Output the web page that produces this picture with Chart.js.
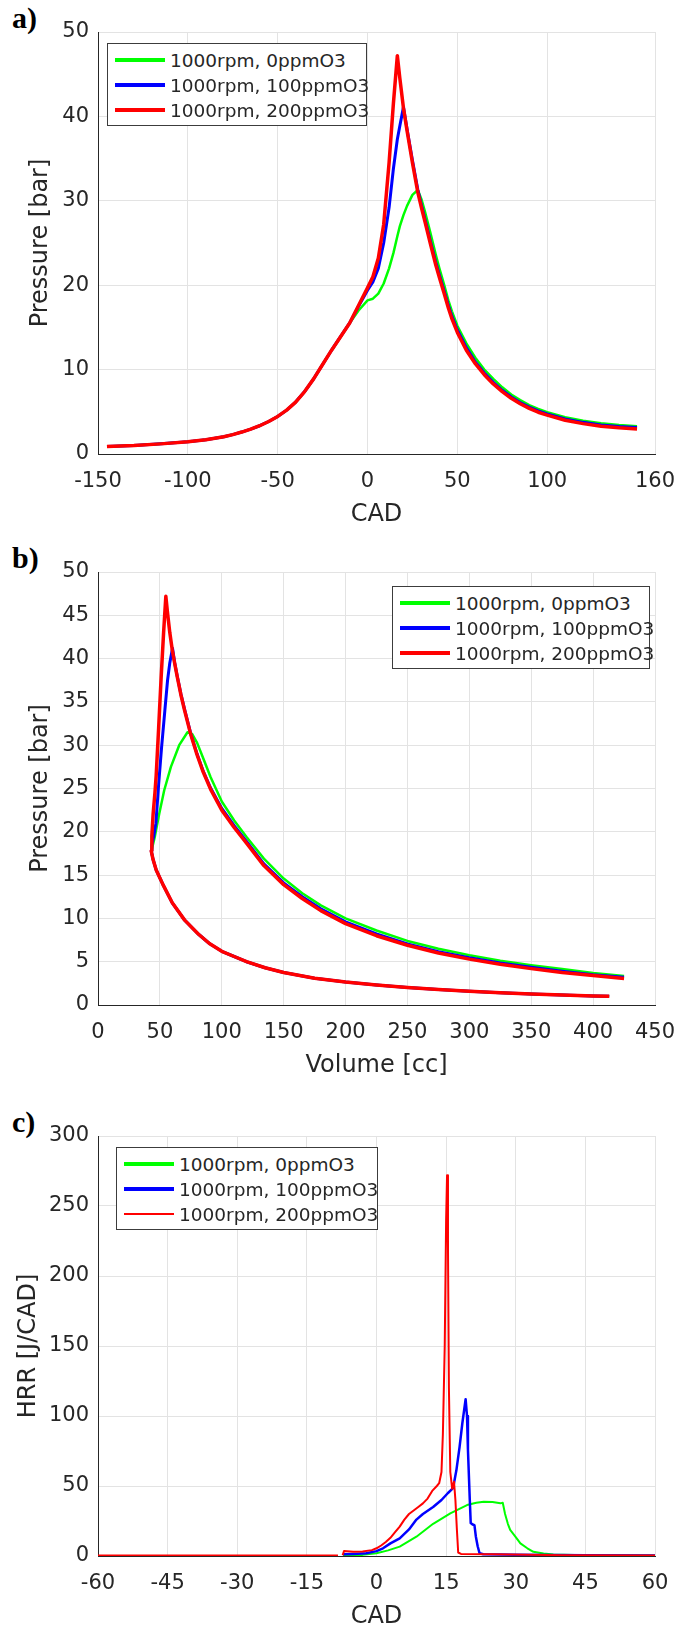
<!DOCTYPE html>
<html>
<head>
<meta charset="utf-8">
<script src="https://cdn.jsdelivr.net/npm/chart.js@4/dist/chart.umd.min.js"></script>
<style>
  html, body { margin: 0; padding: 0; background: #fff; }
  body { width: 689px; height: 1629px; position: relative; overflow: hidden; font-family: "DejaVu Sans", sans-serif; }
  canvas { position: absolute; left: 0; }
  .tag { position: absolute; left: 12px; font-family: "Liberation Serif", serif; font-weight: bold; font-size: 30px; line-height: 1; color: #000; }
  .legend { position: absolute; background: #fff; border: 1px solid #3c3c3c; box-sizing: border-box; height: 83px; }
  .legend .row { position: absolute; left: 0; right: 0; height: 25px; }
  .legend .swatch { position: absolute; left: 7px; width: 50px; top: 50%; }
  .legend .label { position: absolute; left: 62px; top: 0; line-height: 25px; font-size: 18.5px; color: #262626; white-space: nowrap; }
</style>
</head>
<body>
<div class="tag" style="top:3px">a)</div>
<div class="tag" style="top:543px">b)</div>
<div class="tag" style="top:1107px">c)</div>

<canvas id="chartA" width="689" height="529" style="top:0px"></canvas>
<canvas id="chartB" width="689" height="540" style="top:540px"></canvas>
<canvas id="chartC" width="689" height="527" style="top:1104px"></canvas>

<div class="legend" id="legendA" style="left:107px; top:43px; width:260px"></div>
<div class="legend" id="legendB" style="left:392px; top:586px; width:258px"></div>
<div class="legend" id="legendC" style="left:116px; top:1147px; width:262px"></div>

<script>
const seriesNames = ['1000rpm, 0ppmO3', '1000rpm, 100ppmO3', '1000rpm, 200ppmO3'];
const seriesColors = ['#00ff00', '#0000ff', '#ff0000'];

// a) pressure vs crank angle
const cadA = [-145, -130, -115, -100, -90, -80, -75, -70, -65, -60, -55, -50, -45, -40, -35, -30, -25, -20, -15, -10,
  -5, 0, 3, 6, 9, 12, 14.4, 16.6, 18, 20, 22, 25, 28, 30, 32, 35, 38, 40, 42.7, 45, 47, 50,
  55, 60, 65, 70, 75, 80, 85, 90, 95, 100, 110, 120, 130, 140, 150];
const pressA0 = [0.9, 1.0, 1.2, 1.45, 1.7, 2.05, 2.3, 2.6, 2.95, 3.35, 3.85, 4.45, 5.2, 6.15, 7.4, 8.9, 10.6, 12.3, 13.9, 15.5,
  17.0, 18.2, 18.4, 19.0, 20.2, 22.0, 23.8, 25.8, 27.0, 28.3, 29.4, 30.7, 31.3, 30.2, 28.7, 26.2, 23.6, 22.0, 20.0, 18.2, 16.9, 15.2,
  13.1, 11.4, 10.0, 8.9, 7.9, 7.05, 6.4, 5.8, 5.35, 4.95, 4.35, 3.95, 3.65, 3.45, 3.3];
const pressA100 = [0.9, 1.0, 1.2, 1.45, 1.7, 2.05, 2.3, 2.6, 2.95, 3.35, 3.85, 4.45, 5.2, 6.15, 7.4, 8.9, 10.6, 12.3, 13.9, 15.5,
  17.5, 19.4, 20.4, 22.0, 25.0, 29.2, 33.8, 37.3, 38.9, 41.1, 38.5, 34.8, 31.3, 29.5, 27.8, 25.2, 22.7, 21.2, 19.3, 17.6, 16.3, 14.7,
  12.6, 10.9, 9.6, 8.5, 7.55, 6.75, 6.1, 5.55, 5.1, 4.75, 4.15, 3.75, 3.45, 3.25, 3.15];
const pressA200 = [0.9, 1.0, 1.2, 1.45, 1.7, 2.05, 2.3, 2.6, 2.95, 3.35, 3.85, 4.45, 5.2, 6.15, 7.4, 8.9, 10.6, 12.3, 13.9, 15.5,
  17.6, 19.7, 21.0, 23.2, 27.2, 34.5, 41.5, 47.2, 44.5, 41.0, 38.3, 34.5, 31.0, 29.2, 27.5, 24.9, 22.4, 20.9, 19.0, 17.3, 16.0, 14.4,
  12.3, 10.7, 9.4, 8.3, 7.4, 6.6, 5.95, 5.4, 4.95, 4.6, 4.0, 3.6, 3.3, 3.1, 2.95];
const cadTicksA = [-150, -100, -50, 0, 50, 100, 160];
const pressTicksA = [0, 10, 20, 30, 40, 50];

// b) pressure vs volume (compression stroke is shared, then each run's combustion/expansion)
const volCompB = [413, 400, 375, 350, 325, 300, 275, 250, 225, 200, 175, 150, 135, 120, 110, 100, 90, 81, 70, 60, 52.5, 47, 44.5, 43];
const pressCompB = [1.0, 1.05, 1.15, 1.28, 1.42, 1.6, 1.8, 2.02, 2.3, 2.65, 3.1, 3.75, 4.3, 5.0, 5.6, 6.2, 7.1, 8.2, 9.8, 11.8, 13.9, 15.6, 16.8, 17.8];
const volExpB0 = [43.5, 46, 49.5, 53.5, 58.9, 65.6, 72.3, 76, 80, 85, 91, 100, 110, 120, 134, 150, 165, 180, 200,
  225, 250, 275, 300, 325, 350, 375, 400, 425];
const pressExpB0 = [18.0, 19.5, 22.1, 24.8, 27.5, 30.0, 31.5, 31.3, 30.3, 28.5, 26.3, 23.5, 21.3, 19.4, 16.9, 14.6, 12.9, 11.5, 10.0,
  8.6, 7.4, 6.5, 5.75, 5.1, 4.6, 4.15, 3.7, 3.35];
const volExpB100 = [43.5, 45, 46.8, 49, 51.4, 54, 56.2, 58, 60.2, 62, 64, 67, 70, 75, 80, 85, 91, 100, 110, 120, 134, 150,
  165, 180, 200, 225, 250, 275, 300, 325, 350, 375, 400, 425];
const pressExpB100 = [18.5, 19.5, 21.0, 25.5, 29.8, 34.0, 37.5, 39.5, 41.2, 39.5, 38.0, 35.9, 34.1, 31.3, 29.0, 27.0, 25.05, 22.7, 20.7, 18.9, 16.3, 14.1,
  12.5, 11.1, 9.6, 8.2, 7.05, 6.15, 5.45, 4.85, 4.35, 3.9, 3.5, 3.2];
const volExpB200 = [43.5, 44.5, 46, 47, 49, 51, 53, 54.8, 56, 58, 60, 62, 64, 67, 70, 75, 80, 85, 91, 100, 110, 120, 134, 150,
  165, 180, 200, 225, 250, 275, 300, 325, 350, 375, 400, 425];
const pressExpB200 = [19.5, 22.0, 24.5, 26.5, 32.0, 37.8, 43.0, 47.2, 45.5, 43.0, 41.0, 39.4, 37.9, 35.8, 34.0, 31.2, 28.9, 26.9, 24.9, 22.5, 20.5, 18.7, 16.1, 13.9,
  12.3, 10.9, 9.4, 8.0, 6.9, 6.0, 5.3, 4.7, 4.2, 3.75, 3.4, 3.05];
const volTicksB = [0, 50, 100, 150, 200, 250, 300, 350, 400, 450];
const pressTicksB = [0, 5, 10, 15, 20, 25, 30, 35, 40, 45, 50];

// c) heat release rate vs crank angle
const cadC0 = [-7.2, -3, 0, 2.5, 5, 8.6, 12.2, 15.9, 19.5, 21.5, 23.1, 25, 26.7, 27.2, 27.7, 28.3, 28.8,
  30, 31, 32.5, 33.8, 36, 38.1, 45, 60];
const hrrC0 = [0.3, 0.8, 2.0, 4.0, 6.7, 13.8, 23.0, 30.5, 36.4, 38.0, 38.8, 38.5, 37.6, 38.0, 30.0, 23.0, 18.6,
  13.5, 9.0, 5.5, 3.0, 1.8, 1.0, 0.6, 0.4];
const cadC100 = [-7.2, -5, -2.2, 0, 1.4, 3, 5, 7, 8.6, 10, 12.2, 14, 15.4, 16.5, 17.2, 17.9, 18.5, 19.2,
  19.5, 19.7, 20.1, 20.3, 20.7, 21.1, 21.4, 21.8, 22.2, 23, 30, 45, 60];
const hrrC100 = [1.2, 1.5, 2.0, 3.5, 5.5, 9.0, 12.6, 19.0, 26.0, 30.0, 35.0, 40.0, 45.0, 48.5, 61.0, 78.0, 95.0, 112.0,
  100.0, 76.0, 40.0, 23.5, 22.5, 22.0, 14.0, 7.0, 2.0, 1.2, 0.9, 0.5, 0.4];
const cadC200 = [-60, -8.3, -7.8, -7.3, -7, -5, -3, -1, 0, 1, 2, 3, 4, 5, 6, 7, 8, 9, 10, 11, 12, 13, 13.5,
  14, 14.3, 14.7, 15.0, 15.2, 15.4, 15.6, 15.9, 16.3, 16.7, 17.0, 17.3, 17.6, 18.2, 25, 40, 60];
const hrrC200 = [0.3, 0.3, null, 0.5, 3.5, 3.0, 3.2, 4.2, 5.5, 7.5, 10.0, 13.0, 17.0, 21.0, 26.0, 30.0, 32.5, 35.0, 37.6, 41.0, 46.5, 50.0, 52.0,
  60.0, 87.0, 150.0, 240.0, 272.0, 220.0, 120.0, 60.0, 48.0, 53.0, 40.0, 20.0, 2.5, 1.5, 1.2, 0.6, 0.4];
const cadTicksC = [-60, -45, -30, -15, 0, 15, 30, 45, 60];
const hrrTicksC = [0, 50, 100, 150, 200, 250, 300];

const FONT = '"DejaVu Sans", sans-serif';
const INK = '#262626';
const GRID = '#e3e3e3';

function toPoints(xs, ys) {
  return xs.map((x, i) => ({ x: x, y: ys[i] }));
}

function series(i, points, width) {
  return {
    label: seriesNames[i],
    data: points,
    borderColor: seriesColors[i],
    backgroundColor: seriesColors[i],
    borderWidth: width,
    showLine: true,
    pointRadius: 0,
    tension: 0,
    fill: false,
    borderJoinStyle: 'round',
    order: 2 - i   // red drawn last, on top
  };
}

function xAxis(ticks, title) {
  return {
    type: 'linear',
    min: ticks[0],
    max: ticks[ticks.length - 1],
    afterBuildTicks: s => { s.ticks = ticks.map(v => ({ value: v })); },
    afterFit: s => { s.height = 75; s.paddingLeft = 0; s.paddingRight = 0; },
    grid: { color: GRID, drawTicks: false },
    border: { color: INK },
    ticks: { color: INK, font: { family: FONT, size: 21 }, padding: 15, maxRotation: 0, autoSkip: false,
             callback: v => String(v) },
    title: { display: true, text: title, color: INK, font: { family: FONT, size: 24 }, padding: 0 }
  };
}

function yAxis(ticks, title, titlePad) {
  return {
    type: 'linear',
    min: ticks[0],
    max: ticks[ticks.length - 1],
    afterBuildTicks: s => { s.ticks = ticks.map(v => ({ value: v })); },
    afterFit: s => { s.width = 98; s.paddingTop = 0; s.paddingBottom = 0; },
    grid: { color: GRID, drawTicks: false },
    border: { color: INK },
    ticks: { color: INK, font: { family: FONT, size: 21 }, padding: 9, autoSkip: false,
             callback: v => String(v) },
    title: { display: true, text: title, color: INK, font: { family: FONT, size: 24 },
             padding: { top: titlePad, bottom: 0 } }
  };
}

function makeChart(id, datasets, xs, ys) {
  return new Chart(document.getElementById(id), {
    type: 'scatter',
    data: { datasets: datasets },
    options: {
      responsive: false,
      animation: false,
      devicePixelRatio: 1,
      layout: { padding: { top: 32, right: 34, left: 0, bottom: 0 } },
      plugins: { legend: { display: false }, tooltip: { enabled: false } },
      scales: { x: xs, y: ys }
    }
  });
}

function makeLegend(id, widths) {
  const box = document.getElementById(id);
  seriesNames.forEach((name, i) => {
    const row = document.createElement('div');
    row.className = 'row';
    row.style.top = (3.5 + 25 * i) + 'px';
    const sw = document.createElement('div');
    sw.className = 'swatch';
    sw.style.height = widths[i] + 'px';
    sw.style.marginTop = (-widths[i] / 2) + 'px';
    sw.style.background = seriesColors[i];
    const lab = document.createElement('div');
    lab.className = 'label';
    lab.textContent = name;
    row.appendChild(sw);
    row.appendChild(lab);
    box.appendChild(row);
  });
}

makeChart('chartA', [
  series(0, toPoints(cadA, pressA0), 2.5),
  series(1, toPoints(cadA, pressA100), 3),
  series(2, toPoints(cadA, pressA200), 3.5)
], xAxis(cadTicksA, 'CAD'), yAxis(pressTicksA, 'Pressure [bar]', 26));

// each run in b) is one loop: compression stroke followed by its expansion stroke
const compB = toPoints(volCompB, pressCompB);
makeChart('chartB', [
  series(0, compB.concat(toPoints(volExpB0, pressExpB0)), 2.5),
  series(1, compB.concat(toPoints(volExpB100, pressExpB100)), 3),
  series(2, compB.concat(toPoints(volExpB200, pressExpB200)), 3.5)
], xAxis(volTicksB, 'Volume [cc]'), yAxis(pressTicksB, 'Pressure [bar]', 26));

makeChart('chartC', [
  series(0, toPoints(cadC0, hrrC0), 2),
  series(1, toPoints(cadC100, hrrC100), 2.5),
  series(2, toPoints(cadC200, hrrC200), 2)
], xAxis(cadTicksC, 'CAD'), yAxis(hrrTicksC, 'HRR [J/CAD]', 14));

makeLegend('legendA', [3.5, 3.5, 3.5]);
makeLegend('legendB', [3.5, 3.5, 3.5]);
makeLegend('legendC', [3.5, 3.5, 1.5]);
</script>
</body>
</html>
